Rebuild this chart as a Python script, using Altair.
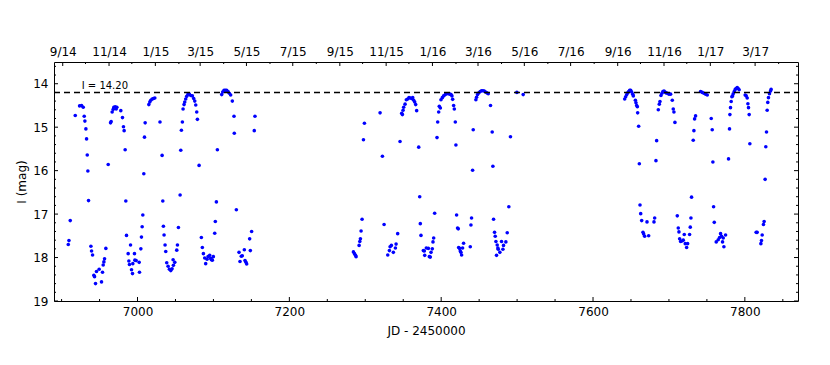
import altair as alt
import pandas as pd

# ---------------- data ----------------
JD = [
    6908.8, 6909.7, 6911.4, 6918.0, 6923.7, 6926.3, 6928.5, 6929.8, 6930.7, 6932.0,
    6932.9, 6933.8, 6934.6, 6935.5, 6938.6, 6939.5, 6940.8, 6942.5, 6943.4, 6944.7,
    6946.0, 6949.5, 6952.6, 6953.9, 6954.8, 6955.7, 6956.6, 6958.3, 6961.4, 6964.5,
    6965.3, 6966.6, 6968.0, 6968.8, 6970.6, 6971.9, 6972.8, 6978.0, 6980.2, 6981.5,
    6982.4, 6983.7, 6984.6, 6985.5, 6987.7, 6988.6, 6989.4, 6990.8, 6992.1, 6993.4,
    6993.8, 6996.0, 6996.5, 6998.2, 7002.2, 7002.6, 7004.4, 7005.2, 7006.1, 7007.0,
    7008.3, 7009.2, 7010.1, 7014.9, 7016.2, 7017.5, 7019.3, 7021.0, 7022.8, 7029.6,
    7032.4, 7033.3, 7034.1, 7035.0, 7036.3, 7037.2, 7038.5, 7040.3, 7042.0, 7043.8,
    7045.5, 7046.9, 7047.3, 7049.1, 7051.7, 7052.6, 7053.9, 7056.1, 7057.0, 7057.8,
    7059.1, 7060.0, 7061.3, 7062.2, 7063.5, 7064.8, 7066.6, 7068.3, 7070.1, 7072.3,
    7074.0, 7075.4, 7076.7, 7078.0, 7078.9, 7081.1, 7084.1, 7085.4, 7086.8, 7088.5,
    7089.8, 7091.6, 7092.9, 7095.1, 7096.4, 7097.3, 7098.6, 7099.9, 7101.7, 7102.5,
    7103.9, 7105.2, 7110.9, 7112.2, 7114.0, 7115.7, 7117.4, 7119.2, 7120.9, 7122.7,
    7124.9, 7127.1, 7127.5, 7130.2, 7133.7, 7135.0, 7136.7, 7138.0, 7140.7, 7141.6,
    7142.9, 7143.8, 7147.7, 7148.6, 7150.3, 7153.8, 7154.7,
    7284.4, 7285.8, 7287.1, 7287.9, 7291.9, 7292.8, 7293.6, 7294.5, 7295.8, 7297.6,
    7298.9, 7319.5, 7322.6, 7324.8, 7329.6, 7331.8, 7332.7, 7334.4, 7337.0, 7339.7,
    7340.6, 7342.7, 7345.8, 7348.0, 7348.9, 7349.8, 7350.6, 7352.4, 7354.1, 7355.9,
    7357.6, 7359.4, 7361.2, 7362.5, 7363.8, 7365.1, 7366.4, 7367.7, 7370.4, 7371.7,
    7372.5, 7373.4, 7376.5, 7377.8, 7378.3, 7380.4, 7383.1, 7384.4, 7385.7, 7386.6,
    7388.3, 7389.2, 7390.1, 7391.4, 7394.5, 7395.4, 7396.7, 7397.5, 7398.9, 7399.7,
    7401.5, 7403.2, 7405.4, 7407.5, 7409.7, 7411.5, 7413.0, 7414.2, 7415.1, 7416.4,
    7417.3, 7418.6, 7419.4, 7420.3, 7421.6, 7422.5, 7423.0, 7424.3, 7425.1, 7426.0,
    7426.9, 7428.2, 7429.5, 7438.3, 7439.2, 7440.0, 7441.4, 7442.2, 7445.7, 7446.6,
    7447.9, 7449.7, 7451.4, 7453.2, 7455.0, 7456.7, 7458.5, 7460.2, 7462.0, 7465.0,
    7467.2, 7468.1, 7469.0, 7470.3, 7471.2, 7472.1, 7472.9, 7473.8, 7474.7, 7475.1,
    7477.3, 7479.5, 7481.3, 7482.1, 7485.2, 7487.0, 7489.1, 7491.3, 7499.7, 7508.0,
    7641.7, 7643.0, 7644.4, 7645.7, 7647.0, 7648.3, 7649.6, 7650.9, 7652.3, 7653.1,
    7655.8, 7656.6, 7657.5, 7658.4, 7658.8, 7660.1, 7661.0, 7661.9, 7662.8, 7664.1,
    7665.8, 7666.7, 7668.0, 7671.1, 7673.3, 7680.3, 7681.2, 7682.9, 7683.8, 7686.0,
    7687.3, 7688.2, 7689.5, 7690.8, 7692.1, 7693.5, 7694.8, 7696.1, 7697.8, 7700.0,
    7702.2, 7704.4, 7705.7, 7706.6, 7707.9, 7711.0, 7712.3, 7713.2, 7714.1, 7715.4,
    7717.1, 7718.9, 7720.2, 7721.5, 7723.3, 7724.6, 7727.2, 7728.1, 7729.0, 7729.8,
    7732.0, 7732.9, 7733.8, 7735.1, 7741.7, 7743.9, 7746.1, 7748.3, 7750.5, 7755.7,
    7757.0, 7757.9, 7758.8, 7759.7, 7762.3, 7764.9, 7766.7, 7768.0, 7769.3, 7770.6,
    7771.5, 7772.4, 7774.6, 7778.5, 7779.8, 7780.3, 7781.1, 7782.0, 7782.9, 7783.8,
    7784.7, 7786.0, 7787.3, 7788.6, 7789.9, 7791.2, 7792.5, 7800.4, 7801.8, 7803.1,
    7804.0, 7804.8, 7805.7, 7806.6, 7814.9, 7816.2, 7821.1, 7821.9, 7822.8, 7824.5,
    7825.4, 7826.7, 7827.6, 7828.5, 7829.4, 7830.2, 7831.1, 7832.4, 7833.8, 7834.6,
]
I_MAG = [
    17.70, 17.61, 17.15, 14.73, 14.51, 14.50, 14.54, 14.75, 14.86, 15.04,
    15.27, 15.64, 16.01, 16.69, 17.74, 17.85, 17.94, 18.41, 18.44, 18.60,
    18.32, 18.27, 18.56, 18.34, 18.17, 18.10, 18.03, 17.79, 15.86, 14.90,
    14.87, 14.65, 14.59, 14.54, 14.53, 14.58, 14.54, 14.62, 14.78, 14.99,
    15.08, 15.52, 16.70, 17.49, 17.91, 18.08, 18.16, 17.71, 18.28, 18.37,
    18.14, 17.91, 18.06, 18.07, 18.11, 18.34, 17.80, 17.53, 17.29, 17.02,
    16.07, 15.23, 14.90, 14.48, 14.42, 14.38, 14.35, 14.34, 14.33, 14.88,
    15.65, 16.70, 17.28, 17.48, 17.71, 17.86, 18.12, 18.20, 18.27, 18.30,
    18.26, 18.05, 18.18, 18.11, 17.83, 17.71, 17.31, 16.56, 15.53, 15.07,
    14.88, 14.58, 14.48, 14.42, 14.35, 14.29, 14.24, 14.24, 14.27, 14.28,
    14.34, 14.40, 14.49, 14.65, 14.82, 15.88, 17.54, 17.77, 17.91, 18.01,
    18.14, 18.04, 17.98, 17.95, 18.02, 18.05, 18.06, 17.98, 17.44, 17.17,
    16.72, 15.52, 14.25, 14.19, 14.15, 14.15, 14.15, 14.18, 14.22, 14.26,
    14.40, 14.75, 15.14, 16.90, 17.88, 18.09, 17.97, 17.96, 17.82, 18.07,
    18.11, 18.15, 17.57, 17.84, 17.40, 15.08, 14.75,
    17.87, 17.91, 17.95, 17.98, 17.72, 17.63, 17.57, 17.39, 17.12, 15.29,
    14.91, 14.67, 15.67, 17.24, 17.94, 17.84, 17.75, 17.72, 17.88, 17.78,
    17.69, 17.45, 15.33, 14.68, 14.71, 14.61, 14.54, 14.47, 14.37, 14.35,
    14.32, 14.33, 14.34, 14.32, 14.38, 14.42, 14.48, 14.62, 15.46, 16.60,
    17.22, 17.49, 17.84, 17.85, 17.95, 17.78, 17.79, 17.98, 17.99, 17.88,
    17.80, 17.64, 17.55, 16.98, 15.24, 14.88, 14.65, 14.52, 14.56, 14.37,
    14.32, 14.28, 14.25, 14.23, 14.23, 14.24, 14.25, 14.28, 14.36, 14.50,
    14.58, 14.88, 15.41, 17.02, 17.32, 17.34, 17.77, 17.79, 17.85, 17.88,
    17.94, 17.78, 17.67, 17.75, 17.25, 17.09, 15.99, 15.06, 14.37, 14.31,
    14.25, 14.21, 14.18, 14.16, 14.16, 14.17, 14.19, 14.21, 14.23, 14.50,
    15.11, 15.90, 17.12, 17.42, 17.51, 17.63, 17.95, 17.71, 17.78, 17.81,
    17.88, 17.63, 17.81, 17.72, 17.64, 17.43, 16.83, 15.22, 14.20, 14.25,
    14.35, 14.30, 14.25, 14.21, 14.18, 14.15, 14.15, 14.19, 14.24, 14.28,
    14.38, 14.44, 14.50, 14.53, 14.67, 14.98, 15.84, 16.79, 16.99, 17.15,
    17.42, 17.46, 17.51, 17.18, 17.50, 17.18, 17.09, 15.77, 15.31, 14.60,
    14.47, 14.41, 14.27, 14.22, 14.18, 14.17, 14.19, 14.21, 14.22, 14.24,
    14.24, 14.38, 14.58, 14.65, 14.89, 17.04, 17.32, 17.41, 17.57, 17.63,
    17.62, 17.60, 17.47, 17.68, 17.77, 17.68, 17.47, 17.30, 17.09, 16.61,
    15.30, 15.08, 14.81, 14.74, 14.18, 14.20, 14.22, 14.24, 14.26, 14.80,
    15.06, 15.80, 16.83, 17.19, 17.64, 17.59, 17.54, 17.45, 17.51, 17.64,
    17.55, 17.75, 17.48, 15.73, 15.04, 14.71, 14.55, 14.41, 14.30, 14.28,
    14.23, 14.18, 14.13, 14.11, 14.09, 14.11, 14.14, 14.26, 14.28, 14.33,
    14.46, 14.55, 14.71, 15.38, 17.42, 17.42, 17.68, 17.61, 17.48, 17.24,
    17.17, 16.20, 15.45, 15.11, 14.61, 14.43, 14.32, 14.23, 14.17, 14.13,
]

REF_MAG = 14.20
REF_LABEL = "I = 14.20"
REF_LABEL_JD = 6926.5
REF_LABEL_MAG = 14.13

X_MAJOR = [7000, 7200, 7400, 7600, 7800]
X_MINOR = [6900, 6950, 7050, 7100, 7150, 7250, 7300, 7350, 7450, 7500, 7550,
           7650, 7700, 7750, 7850]
Y_MAJOR = [14, 15, 16, 17, 18, 19]
Y_MINOR = [13.6, 13.8, 14.2, 14.4, 14.6, 14.8, 15.2, 15.4, 15.6, 15.8,
           16.2, 16.4, 16.6, 16.8, 17.2, 17.4, 17.6, 17.8, 18.2, 18.4, 18.6, 18.8]

# first day of each month (JD - 2450000)
TOP_LABELS = ["9/14", "11/14", "1/15", "3/15", "5/15", "7/15", "9/15", "11/15",
              "1/16", "3/16", "5/16", "7/16", "9/16", "11/16", "1/17", "3/17"]
TOP_LABEL_JD = [6901.5, 6962.5, 7023.5, 7082.5, 7143.5, 7204.5, 7266.5, 7327.5,
                7388.5, 7448.5, 7509.5, 7570.5, 7632.5, 7693.5, 7754.5, 7813.5]
TOP_MINOR_JD = [6931.5, 6992.5, 7054.5, 7113.5, 7174.5, 7235.5, 7296.5, 7357.5,
                7419.5, 7479.5, 7540.5, 7601.5, 7662.5, 7723.5, 7785.5, 7844.5]

# ---------------- layout / style ----------------
W, H = 744, 239
XDOM = [6890, 7870]
YDOM = [13.5, 19]
FONT = "DejaVu Sans"
MAJ, MIN = 4, 2

xs = alt.Scale(domain=XDOM, nice=False, zero=False)
ys = alt.Scale(domain=YDOM, reverse=True, nice=False, zero=False)

df = pd.DataFrame({"jd": JD, "mag": I_MAG})

y_axis = alt.Axis(orient="left", values=Y_MAJOR, title="I (mag)", ticks=False,
                  domain=False, grid=False, labelPadding=6, titlePadding=4,
                  labelOverlap=False)

points = alt.Chart(df).mark_circle(size=13, color="#0000ff", opacity=1).encode(
    x=alt.X("jd:Q", scale=xs,
            axis=alt.Axis(orient="bottom", values=X_MAJOR, format="d", title="JD - 2450000",
                          ticks=False, domain=False, grid=False, labelPadding=5,
                          titlePadding=8, labelFlush=False, labelOverlap=False)),
    y=alt.Y("mag:Q", scale=ys, axis=y_axis),
)

label_expr = ("[" + ",".join(f"'{t}'" for t in TOP_LABELS) + "][indexof(["
              + ",".join(str(v) for v in TOP_LABEL_JD) + "], datum.value)]")

top_major = alt.Chart(pd.DataFrame({"jd": TOP_LABEL_JD})).mark_rule(
    color="black", strokeWidth=1).encode(
    x=alt.X("jd:Q", scale=xs,
            axis=alt.Axis(orient="top", values=TOP_LABEL_JD, labelExpr=label_expr,
                          title=None, ticks=False, domain=False, grid=False,
                          labelPadding=4, labelFlush=False, labelOverlap=False)),
    y=alt.value(0), y2=alt.value(MAJ),
)
top_minor = alt.Chart(pd.DataFrame({"jd": TOP_MINOR_JD})).mark_rule(
    color="black", strokeWidth=1).encode(
    x=alt.X("jd:Q", scale=xs, axis=None), y=alt.value(0), y2=alt.value(MIN))

bot_major = alt.Chart(pd.DataFrame({"jd": X_MAJOR})).mark_rule(
    color="black", strokeWidth=1).encode(
    x=alt.X("jd:Q", scale=xs, axis=None), y=alt.value(H), y2=alt.value(H - MAJ))
bot_minor = alt.Chart(pd.DataFrame({"jd": X_MINOR})).mark_rule(
    color="black", strokeWidth=1).encode(
    x=alt.X("jd:Q", scale=xs, axis=None), y=alt.value(H), y2=alt.value(H - MIN))

ymaj_df = pd.DataFrame({"mag": Y_MAJOR})
ymin_df = pd.DataFrame({"mag": Y_MINOR})
left_major = alt.Chart(ymaj_df).mark_rule(color="black", strokeWidth=1).encode(
    y=alt.Y("mag:Q", scale=ys, axis=y_axis), x=alt.value(0), x2=alt.value(MAJ))
left_minor = alt.Chart(ymin_df).mark_rule(color="black", strokeWidth=1).encode(
    y=alt.Y("mag:Q", scale=ys, axis=y_axis), x=alt.value(0), x2=alt.value(MIN))
right_major = alt.Chart(ymaj_df).mark_rule(color="black", strokeWidth=1).encode(
    y=alt.Y("mag:Q", scale=ys, axis=y_axis), x=alt.value(W), x2=alt.value(W - MAJ))
right_minor = alt.Chart(ymin_df).mark_rule(color="black", strokeWidth=1).encode(
    y=alt.Y("mag:Q", scale=ys, axis=y_axis), x=alt.value(W), x2=alt.value(W - MIN))

ref_line = alt.Chart(pd.DataFrame({"mag": [REF_MAG]})).mark_rule(
    color="black", strokeWidth=1.5, strokeDash=[6, 4]).encode(
    y=alt.Y("mag:Q", scale=ys, axis=y_axis), x=alt.value(0), x2=alt.value(W))

ref_text = alt.Chart(pd.DataFrame({"x": [REF_LABEL_JD], "mag": [REF_LABEL_MAG], "t": [REF_LABEL]})
                     ).mark_text(align="left", baseline="alphabetic", fontSize=10,
                                 font=FONT, color="black").encode(
    x=alt.X("x:Q", scale=xs, axis=None),
    y=alt.Y("mag:Q", scale=ys, axis=y_axis),
    text="t:N")

chart = alt.layer(
    points, ref_line, ref_text, top_major, top_minor, bot_major, bot_minor,
    left_major, left_minor, right_major, right_minor,
).resolve_axis(x="independent").properties(
    width=W, height=H, autosize="none",
    padding={"left": 46, "top": 54, "right": 24, "bottom": 60},
    background="white",
).configure_view(stroke="black", strokeWidth=1).configure_axis(
    labelFont=FONT, titleFont=FONT, labelFontSize=12, titleFontSize=12,
    titleFontWeight="normal", labelColor="black", titleColor="black",
)

chart.save("out.html", embed_options={"renderer": "svg", "actions": False})
